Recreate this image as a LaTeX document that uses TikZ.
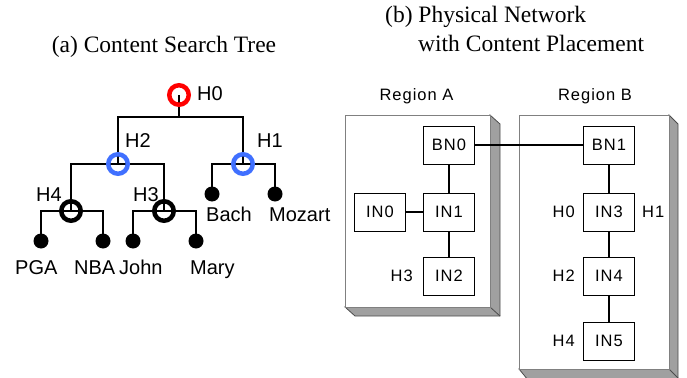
\documentclass[tikz,border=0pt]{standalone}
\usepackage{fontspec}
\setmainfont{Liberation Serif}
\setsansfont{Liberation Sans}
\newfontfamily\netfont[LetterSpace=6]{Liberation Sans}
\usetikzlibrary{backgrounds}
\definecolor{treeblue}{RGB}{64,112,255}
\definecolor{sidegray}{RGB}{160,160,160}

\begin{document}
\begin{tikzpicture}[x=1pt,y=-1pt,
    edge/.style={line width=2pt},
    ring/.style={circle,draw,line width=4.5pt,minimum size=19.5pt,inner sep=0pt},
    leaf/.style={circle,fill=black,minimum size=15pt,inner sep=0pt},
    tlabel/.style={font=\sffamily\fontsize{20}{20}\selectfont,inner sep=0pt,anchor=base west},
    box/.style={draw,fill=white,line width=0.8pt,minimum width=51pt,minimum height=38pt,inner sep=0pt,font=\netfont\fontsize{16.5}{16.5}\selectfont},
    nlabel/.style={font=\netfont\fontsize{16.5}{16.5}\selectfont,inner sep=0pt},
    link/.style={line width=1.2pt},
    face/.style={draw=gray,fill=white,line width=0.8pt},
    side/.style={draw=gray!60!black,fill=sidegray,line width=0.8pt},
    title/.style={font=\fontsize{23.5}{23.5}\selectfont,inner sep=0pt}]
    \useasboundingbox (0,0) rectangle (687,377);

    \node[title] (ta) at (164,47) {(a) Content Search Tree};
    \node[title,anchor=west] (tb1) at (385,17) {(b) Physical Network};
    \node[title,anchor=west] (tb2) at (418,43) {with Content Placement};

    % search tree
    \node[ring,red] (h0) at (179,95) {};
    \coordinate (b0) at (179,117);
    \node[ring,treeblue] (h2) at (118,164) {};
    \node[ring,treeblue] (h1) at (243,164) {};
    \node[ring] (h4) at (71,211) {};
    \node[ring] (h3) at (164,211) {};
    \node[leaf] (pga) at (41,241) {};
    \node[leaf] (nba) at (103,241) {};
    \node[leaf] (john) at (133,241) {};
    \node[leaf] (mary) at (196,241) {};
    \node[leaf] (bach) at (212,194) {};
    \node[leaf] (mozart) at (275,194) {};
    \begin{scope}[on background layer]
        \draw[edge] (h0.center) -- (b0);
        \draw[edge] (h2.center) |- (b0) -| (h1.center);
        \draw[edge] (h4.center) |- (h2.center) -| (h3.center);
        \draw[edge] (pga.center) |- (h4.center) -| (nba.center);
        \draw[edge] (john.center) |- (h3.center) -| (mary.center);
        \draw[edge] (bach.center) |- (h1.center) -| (mozart.center);
    \end{scope}
    \node[tlabel] (lh0) at (197,100.7) {H0};
    \node[tlabel] (lh2) at (125,147.3) {H2};
    \node[tlabel] (lh1) at (257,147.3) {H1};
    \node[tlabel] (lh4) at (36,201.7) {H4};
    \node[tlabel] (lh3) at (133,201.7) {H3};
    \node[tlabel] (lbach) at (206,221) {Bach};
    \node[tlabel] (lmozart) at (269,221) {Mozart};
    \node[tlabel] (lpga) at (15,274) {PGA};
    \node[tlabel] (lnba) at (74,274) {NBA};
    \node[tlabel] (ljohn) at (119,274) {John};
    \node[tlabel] (lmary) at (190,274) {Mary};

    % physical network
    \draw[side] (490,115) -- (500,124) -- (500,316) -- (355,316) -- (345,307) -- (490,307) -- cycle;
    \draw[side] (490,307) -- (500,316);
    \draw[face] (345,115) rectangle (490,307);
    \draw[side] (669,115) -- (678,124) -- (678,380) -- (528,380) -- (519,369) -- (669,369) -- cycle;
    \draw[side] (669,369) -- (678,378);
    \draw[face] (519,115) rectangle (669,369);
    \node[nlabel] (rega) at (416.5,96) {Region A};
    \node[nlabel] (regb) at (595,96) {Region B};

    \node[box] (bn0) at (449,145) {BN0};
    \node[box] (in1) at (449,212) {IN1};
    \node[box] (in0) at (380,212) {IN0};
    \node[box] (in2) at (449,276) {IN2};
    \node[box] (bn1) at (609,145) {BN1};
    \node[box] (in3) at (609,212) {IN3};
    \node[box] (in4) at (609,276) {IN4};
    \node[box] (in5) at (609,341) {IN5};
    \draw[link] (bn0) -- (in1);
    \draw[link] (in0) -- (in1);
    \draw[link] (in1) -- (in2);
    \draw[link] (bn0) -- (bn1);
    \draw[link] (bn1) -- (in3);
    \draw[link] (in3) -- (in4);
    \draw[link] (in4) -- (in5);
    \node[nlabel,anchor=east] (nh3) at (413,276) {H3};
    \node[nlabel,anchor=east] (nh0) at (575,212) {H0};
    \node[nlabel,anchor=west] (nh1) at (642,212) {H1};
    \node[nlabel,anchor=east] (nh2) at (575,276) {H2};
    \node[nlabel,anchor=east] (nh4) at (575,341) {H4};
\end{tikzpicture}
\end{document}
